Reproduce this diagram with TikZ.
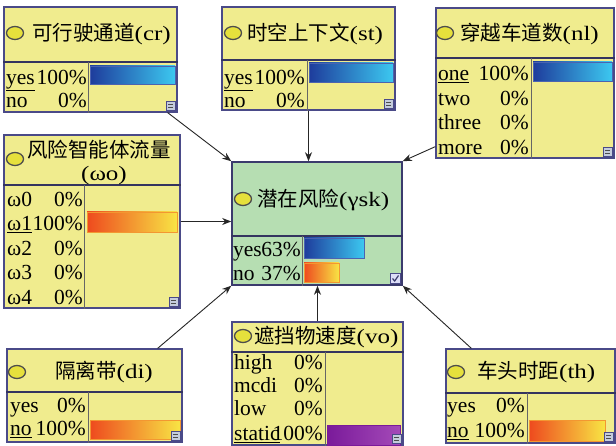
\documentclass[tikz,border=0pt]{standalone}
\usepackage{graphicx}
\usepackage{fontspec}
\setmainfont{Liberation Serif}
\newfontfamily\cjk{Noto Sans CJK SC}
\usetikzlibrary{arrows.meta,fit,shapes.geometric}
\definecolor{nodey}{HTML}{F0EC8E}
\definecolor{nodeg}{HTML}{B6DEB2}
\definecolor{bord}{HTML}{4A4A88}
\definecolor{dotyel}{HTML}{E6E03C}
\definecolor{bdark}{HTML}{1E3C9C}
\definecolor{blight}{HTML}{3CC8F0}
\definecolor{odark}{HTML}{EE4A1E}
\definecolor{olight}{HTML}{F8E444}
\definecolor{pdark}{HTML}{7A1A9A}
\definecolor{plight}{HTML}{A44AB8}
\definecolor{iconfill}{HTML}{C4CCDC}
\newcommand\lat[1]{\scalebox{1.22}[1]{#1}}
\begin{document}
\begin{tikzpicture}[x=1pt,y=-1pt,
  box/.style={draw=bord, line width=1.2pt, fill=nodey, inner sep=0pt},
  gbox/.style={box, fill=nodeg},
  hl/.style={draw=bord!70!black, line width=1.3pt},
  vl/.style={draw=black!60, line width=1pt},
  dot/.style={ellipse, draw=black!70, line width=1.3pt, fill=dotyel, minimum width=17pt, minimum height=13pt, inner sep=0pt},
  ht/.style={font=\fontsize{20.5}{23}\selectfont, inner sep=0pt, anchor=west, text height=15.5pt, text depth=0pt},
  rt/.style={font=\fontsize{21.5}{24}\selectfont, inner sep=0pt, text height=14.5pt, text depth=0pt},
  lab/.style={rt, anchor=west},
  pct/.style={rt, anchor=east},
  bluebar/.style={left color=bdark, right color=blight, draw=bdark!80, line width=0.8pt},
  orbar/.style={left color=odark, right color=olight, draw=odark!50!olight, line width=0.8pt},
  purbar/.style={left color=pdark, right color=plight, draw=pdark, line width=0.8pt},
  icon/.style={draw=bord, fill=iconfill, line width=0.6pt, minimum size=9pt, inner sep=0pt, anchor=south east,
    path picture={\draw[black!70, line width=0.6pt] ([xshift=2pt,yshift=-3pt]path picture bounding box.north west) -- ([xshift=-2pt,yshift=-3pt]path picture bounding box.north east);
      \draw[black!70, line width=0.6pt] ([xshift=2pt,yshift=3pt]path picture bounding box.south west) -- ([xshift=-2pt,yshift=3pt]path picture bounding box.south east);}},
  chk/.style={draw=bord, fill=iconfill!70!blue!30, line width=0.6pt, minimum size=10pt, inner sep=0pt, anchor=south east,
    path picture={\draw[bord!80!black, line width=1.2pt] ([xshift=2pt,yshift=5pt]path picture bounding box.south west) -- ([xshift=4.2pt,yshift=2.5pt]path picture bounding box.south west) -- ([xshift=-2pt,yshift=-2pt]path picture bounding box.north east);}},
  arr/.style={draw=black!85, line width=0.9pt, -{Stealth[length=9pt,width=7pt]}}
]
\useasboundingbox[fill=white] (0,0) rectangle (616,446);

% ---------- cr ----------
\node[box, fit={(4,7) (177,112)}] (cr) {};
\draw[hl] (cr.west |- 0,62) -- (cr.east |- 0,62);
\draw[vl] (88,62) -- (cr.south -| 88,0);
\node[dot] (cr-d) at (15,33) {};
\node[ht] (cr-h) at (32,33) {{\cjk 可行驶通道}\lat{(cr)}};
\node[lab] (cr-l1) at (6,77) {\underline{yes}};
\node[pct] (cr-p1) at (87,77) {100\%};
\node[lab] (cr-l2) at (6,100) {no};
\node[pct] (cr-p2) at (87,100) {0\%};
\path[bluebar] (90,66) rectangle (175,84);
\node[icon] (cr-i) at ([xshift=-2pt,yshift=2pt]cr.south east) {};

% ---------- st ----------
\node[box, fit={(222,7) (395,110)}] (st) {};
\draw[hl] (st.west |- 0,60) -- (st.east |- 0,60);
\draw[vl] (307,60) -- (st.south -| 307,0);
\node[dot] (st-d) at (233,33) {};
\node[ht] (st-h) at (247,33) {{\cjk 时空上下文}\lat{(st)}};
\node[lab] (st-l1) at (224,77) {\underline{yes}};
\node[pct] (st-p1) at (305,77) {100\%};
\node[lab] (st-l2) at (224,100) {no};
\node[pct] (st-p2) at (305,100) {0\%};
\path[bluebar] (309,63) rectangle (393,82);
\node[icon] (st-i) at ([xshift=-2pt,yshift=2pt]st.south east) {};

% ---------- nl ----------
\node[box, fit={(436,8) (614,158)}] (nl) {};
\draw[hl] (nl.west |- 0,58) -- (nl.east |- 0,58);
\draw[vl] (531,58) -- (nl.south -| 531,0);
\node[dot] (nl-d) at (445,33) {};
\node[ht] (nl-h) at (460,33) {{\cjk 穿越车道数}\lat{(nl)}};
\node[lab] (nl-l1) at (438,73) {\underline{one}};
\node[pct] (nl-p1) at (529,73) {100\%};
\node[lab] (nl-l2) at (438,98) {two};
\node[pct] (nl-p2) at (529,98) {0\%};
\node[lab] (nl-l3) at (438,122) {three};
\node[pct] (nl-p3) at (529,122) {0\%};
\node[lab] (nl-l4) at (438,147) {more};
\node[pct] (nl-p4) at (529,147) {0\%};
\path[bluebar] (533,62) rectangle (612,81);
\node[icon] (nl-i) at ([xshift=-2pt,yshift=2pt]nl.south east) {};

% ---------- wo ----------
\node[box, fit={(4,135) (180,308)}] (wo) {};
\draw[hl] (wo.west |- 0,185) -- (wo.east |- 0,185);
\draw[vl] (84,185) -- (wo.south -| 84,0);
\node[dot] (wo-d) at (15,159) {};
\node[ht] (wo-h1) at (27,150) {\cjk 风险智能体流量};
\node[ht, anchor=center] (wo-h2) at (104,173) {\lat{(ωo)}};
\node[lab] (wo-l1) at (7,199) {ω0};
\node[pct] (wo-p1) at (83,199) {0\%};
\node[lab] (wo-l2) at (7,223.5) {\underline{ω1}};
\node[pct] (wo-p2) at (83,223.5) {100\%};
\node[lab] (wo-l3) at (7,248) {ω2};
\node[pct] (wo-p3) at (83,248) {0\%};
\node[lab] (wo-l4) at (7,272.5) {ω3};
\node[pct] (wo-p4) at (83,272.5) {0\%};
\node[lab] (wo-l5) at (7,297) {ω4};
\node[pct] (wo-p5) at (83,297) {0\%};
\path[orbar] (87,212) rectangle (177,232);
\node[icon] (wo-i) at ([xshift=-2pt,yshift=2pt]wo.south east) {};

% ---------- gsk (center) ----------
\node[gbox, line width=1.6pt, draw=bord!80!black, fit={(232,162) (402,285)}] (gsk) {};
\draw[hl] (gsk.west |- 0,236) -- (gsk.east |- 0,236);
\draw[vl] (302,236) -- (gsk.south -| 302,0);
\node[dot] (gsk-d) at (243,199) {};
\node[ht] (gsk-h) at (257,199) {{\cjk 潜在风险}\lat{(γsk)}};
\node[lab] (gsk-l1) at (233,249) {yes};
\node[pct] (gsk-p1) at (301,249) {63\%};
\node[lab] (gsk-l2) at (233,273) {no};
\node[pct] (gsk-p2) at (301,273) {37\%};
\path[bluebar] (304,238) rectangle (364,258);
\path[orbar] (304,263) rectangle (339,282);
\node[chk] (gsk-i) at ([xshift=-2pt,yshift=2pt]gsk.south east) {};

% ---------- di ----------
\node[box, fit={(7,349) (182,442)}] (di) {};
\draw[hl] (di.west |- 0,392) -- (di.east |- 0,392);
\draw[vl] (88,392) -- (di.south -| 88,0);
\node[dot] (di-d) at (17,372) {};
\node[ht] (di-h) at (55,371) {{\cjk 隔离带}\lat{(di)}};
\node[lab] (di-l1) at (10,405) {yes};
\node[pct] (di-p1) at (86,405) {0\%};
\node[lab] (di-l2) at (10,428) {\underline{no}};
\node[pct] (di-p2) at (86,428) {100\%};
\path[orbar] (90,420) rectangle (180,439);
\node[icon] (di-i) at ([xshift=-2pt,yshift=2pt]di.south east) {};

% ---------- vo ----------
\node[box, fit={(232,322) (403,445)}] (vo) {};
\draw[hl] (vo.west |- 0,352) -- (vo.east |- 0,352);
\draw[vl] (325,352) -- (vo.south -| 325,0);
\node[dot] (vo-d) at (243,336) {};
\node[ht] (vo-h) at (254,336) {{\cjk 遮挡物速度}\lat{(vo)}};
\node[lab] (vo-l1) at (234,362) {high};
\node[pct] (vo-p1) at (323,362) {0\%};
\node[lab] (vo-l2) at (234,385) {mcdi};
\node[pct] (vo-p2) at (323,385) {0\%};
\node[lab] (vo-l3) at (234,408) {low};
\node[pct] (vo-p3) at (323,408) {0\%};
\node[lab] (vo-l4) at (234,433) {\underline{static}};
\node[pct] (vo-p4) at (323,433) {100\%};
\path[purbar] (327,425) rectangle (400,445);
\node[icon] (vo-i) at ([xshift=-2pt,yshift=2pt]vo.south east) {};

% ---------- th ----------
\node[box, fit={(446,349) (615,443)}] (th) {};
\draw[hl] (th.west |- 0,393) -- (th.east |- 0,393);
\draw[vl] (527,393) -- (th.south -| 527,0);
\node[dot] (th-d) at (456,372) {};
\node[ht] (th-h) at (477,371) {{\cjk 车头时距}\lat{(th)}};
\node[lab] (th-l1) at (447,405) {yes};
\node[pct] (th-p1) at (525,405) {0\%};
\node[lab] (th-l2) at (447,430) {\underline{no}};
\node[pct] (th-p2) at (525,430) {100\%};
\path[orbar] (529,420) rectangle (605,441);
\node[icon] (th-i) at ([xshift=-2pt,yshift=2pt]th.south east) {};

% ---------- connectors ----------
\draw[arr] ([xshift=-10pt]cr.south east) -- (gsk.north west);
\draw[arr] (st.south) -- (gsk.north -| st.south);
\draw[arr] ([yshift=12pt]nl.south west) -- (gsk.north east);
\draw[arr] (wo.east) -- (gsk.west |- wo.east);
\draw[arr] ([xshift=-25pt]di.north east) -- (gsk.south west);
\draw[arr] (vo.north) -- (gsk.south -| vo.north);
\draw[arr] ([xshift=26pt]th.north west) -- (gsk.south east);
\end{tikzpicture}
\end{document}
